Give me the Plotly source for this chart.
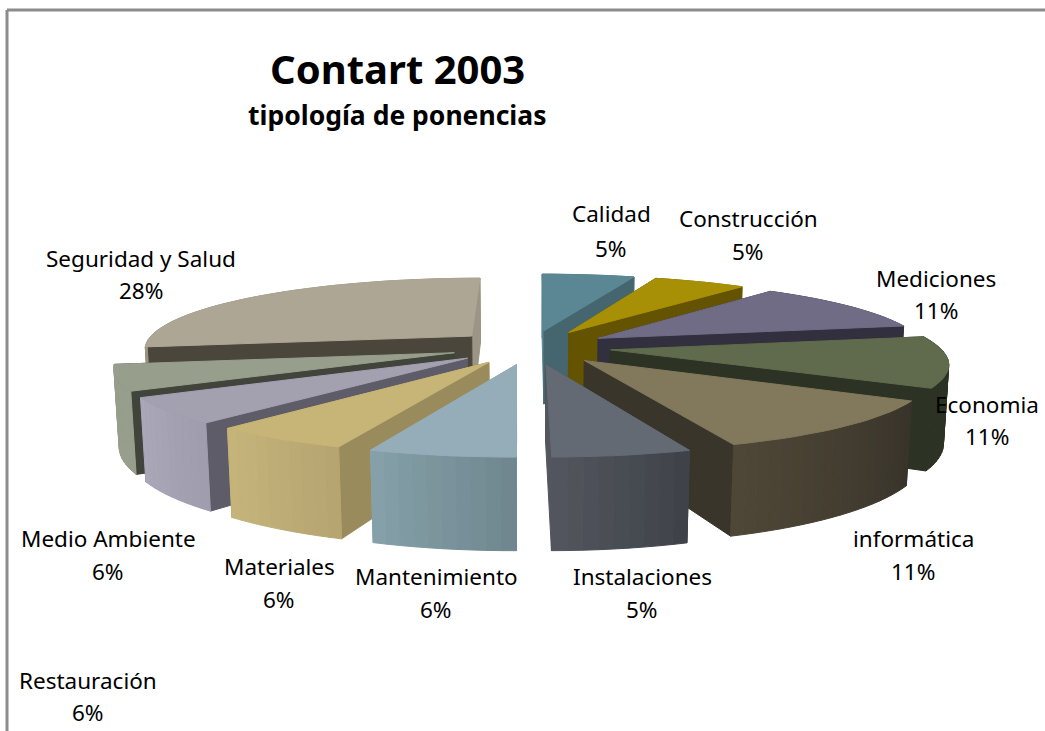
import math
import plotly.graph_objects as go

# ---- data ----
categories = ["Calidad", "Construcción", "Mediciones", "Economia", "informática",
              "Instalaciones", "Mantenimiento", "Materiales", "Medio Ambiente",
              "Restauración", "Seguridad y Salud"]
values = [5.4, 5.4, 11.2, 11.2, 11.2, 5.49, 5.81, 5.6, 5.6, 5.6, 27.5]

# ---- styles ----
top_colors = ["#5b8795", "#a89006", "#706c85", "#5f6b4c", "#82795c", "#646a74",
              "#95adb8", "#c6b577", "#a3a0b0", "#979f8c", "#ada695"]
radial_colors = ["#45666f", "#645300", "#322f3f", "#2c3224", "#3a352a", "#41444c",
                 "#8fa9b5", "#9a8b5c", "#5e5c68", "#41443a", "#4a463c"]
outer_light = ["#5b8795", "#a89006", "#555168", "#2c3224", "#4f4737", "#53565e",
               "#86a1aa", "#c6b57b", "#aba8b9", "#979f8c", "#9c9585"]
outer_dark = ["#45666f", "#645300", "#322f3f", "#2c3224", "#38332a", "#3e4248",
              "#6f868e", "#b5a470", "#9f9cad", "#979f8c", "#9c9585"]
label_xy = [(611, 213, 248), (748, 218, 251), (936, 278, 310), (987, 404, 436),
            (913, 538, 571), (642, 576, 609), (436, 576, 609), (279, 566, 599),
            (108, 538, 571), (88, 680, 712), (141, 258, 290)]

# ---- pie geometry and projection ----
CX, CY = 531, 347
RADIUS, EXPLODE, HEIGHT = 329, 80, 77
TILT, PERSP, PERSP_Z = 0.215, 0.0005, 0.00016


def project(x, y, z=0):
    s = 1 / (1 + PERSP * y + PERSP_Z * z)
    return CX + x * s, CY - TILT * y * s + z * s


def hex_mix(a, b, t):
    ca = [int(a[i:i + 2], 16) for i in (1, 3, 5)]
    cb = [int(b[i:i + 2], 16) for i in (1, 3, 5)]
    return "#%02x%02x%02x" % tuple(round(p + (q - p) * t) for p, q in zip(ca, cb))


def polygon(fig, pts, color):
    xs, ys = zip(*pts)
    fig.add_trace(go.Scatter(x=list(xs) + [xs[0]], y=list(ys) + [ys[0]], mode="lines",
                             fill="toself", fillcolor=color,
                             line=dict(color=color, width=1),
                             hoverinfo="skip", showlegend=False))


fig = go.Figure()
total = sum(values)
slices = []
start = 0.0
for i, v in enumerate(values):
    sweep = v / total * 360
    slices.append((i, start, start + sweep))
    start += sweep


def apex(a0, a1):
    mid = math.radians((a0 + a1) / 2)
    return EXPLODE * math.sin(mid), EXPLODE * math.cos(mid)


for i, a0, a1 in sorted(slices, key=lambda s: -apex(s[1], s[2])[1]):
    ax, ay = apex(a0, a1)
    n = max(4, int((a1 - a0) / 2))
    angs = [a0 + (a1 - a0) * k / n for k in range(n + 1)]
    rim = [(ax + RADIUS * math.sin(math.radians(t)), ay + RADIUS * math.cos(math.radians(t))) for t in angs]
    walls = []
    for k in range(n):
        p, q = rim[k], rim[k + 1]
        col = hex_mix(outer_dark[i], outer_light[i], (k + 0.5) / n)
        walls.append(((p[1] + q[1]) / 2, p, q, col))
    for edge, ang in ((rim[0], a0), (rim[-1], a1)):
        near_vertical = abs(math.sin(math.radians(ang))) < 0.2
        col = outer_light[i] if near_vertical else radial_colors[i]
        walls.append(((ay + edge[1]) / 2, (ax, ay), edge, col))
    for _, p, q, col in sorted(walls, key=lambda w: -w[0]):
        polygon(fig, [project(*p), project(*q), project(q[0], q[1], HEIGHT), project(p[0], p[1], HEIGHT)], col)
    polygon(fig, [project(ax, ay)] + [project(*p) for p in rim], top_colors[i])

LABEL_FONT = dict(family="Noto Sans", size=22.5, color="#000000")


def text(x, y, s, font):
    fig.add_annotation(x=x, y=y, text=s, showarrow=False, xanchor="center", yanchor="middle", font=font)


for cat, v, (x, y1, y2) in zip(categories, values, label_xy):
    text(x, y1, cat, LABEL_FONT)
    text(x, y2, f"{round(v)}%", LABEL_FONT)

text(397, 68, "<b>Contart 2003</b>", dict(family="Noto Sans", size=40, color="#000000"))
text(397, 115, "<b>tipología de ponencias</b>", dict(family="Noto Sans", size=26.5, color="#000000"))

FRAME = dict(color="#8c8c8c", width=3)
fig.add_shape(type="line", x0=7, y0=10, x1=1045, y1=10, line=FRAME, layer="below")
fig.add_shape(type="line", x0=7, y0=10, x1=7, y1=731, line=FRAME, layer="below")

fig.update_layout(width=1045, height=731, margin=dict(l=0, r=0, t=0, b=0),
                  paper_bgcolor="#ffffff", plot_bgcolor="#ffffff", showlegend=False,
                  xaxis=dict(range=[0, 1045], visible=False, fixedrange=True),
                  yaxis=dict(range=[731, 0], visible=False, fixedrange=True))

fig.write_html("out.html", config=dict(displayModeBar=False),
               post_script="document.body.style.margin='0';document.body.style.overflow='hidden';")
